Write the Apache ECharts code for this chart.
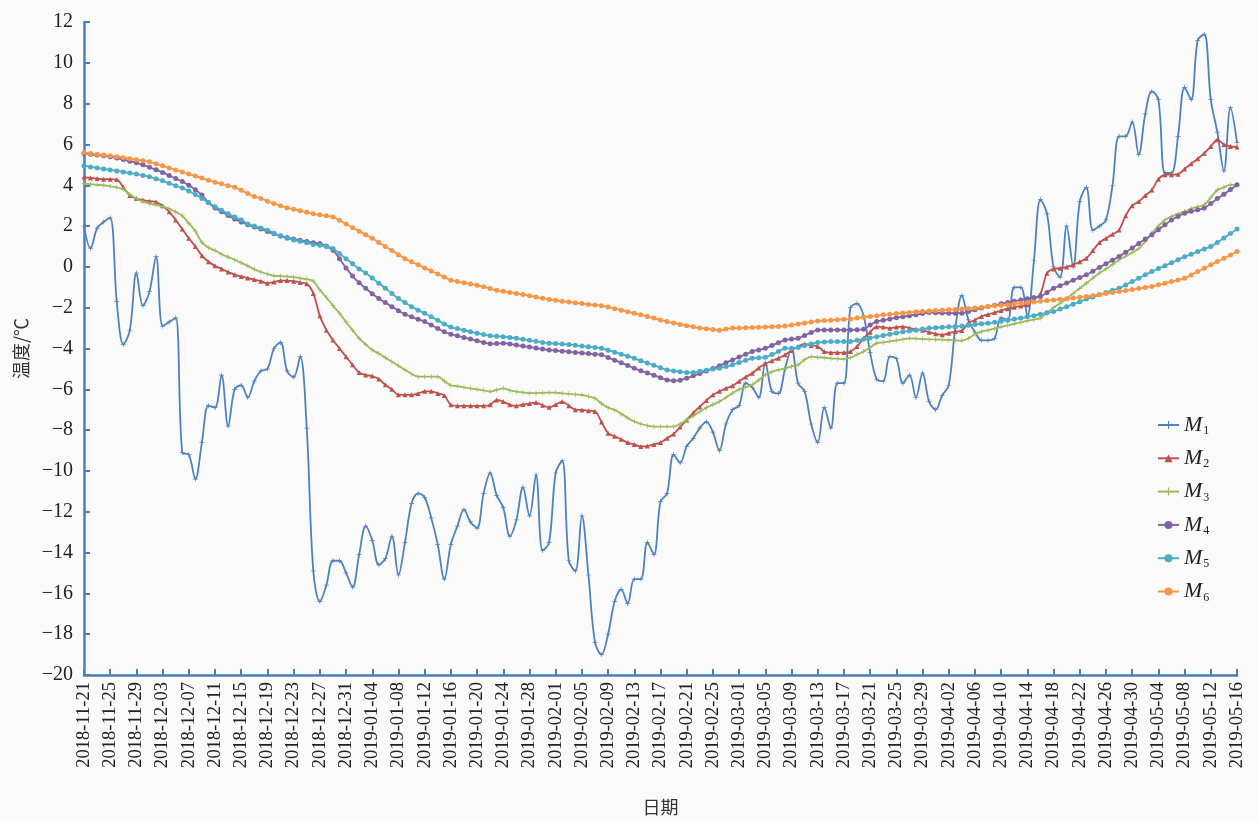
<!DOCTYPE html>
<html>
<head>
<meta charset="utf-8">
<script src="https://cdn.jsdelivr.net/npm/echarts@6/dist/echarts.min.js"></script>
<style>
html,body{margin:0;padding:0;background:#fafafa;}
#c{width:1258px;height:821px;}
</style>
</head>
<body>
<div id="c"></div>
<script>
// ---- data ----
const START_DATE = '2018-11-21';
const SERIES_NAMES = ['M1','M2','M3','M4','M5','M6'];
const Y_TICKS = {min: -20, max: 12, step: 2};

const M1 = [2.0,0.9,1.9,2.2,2.4,-1.7,-3.8,-3.1,-0.3,-1.9,
-1.2,0.5,-2.9,-2.7,-2.5,-9.1,-9.2,-10.4,-8.6,-6.8,
-6.9,-5.3,-7.8,-6.0,-5.8,-6.4,-5.6,-5.1,-5.0,-4.0,
-3.7,-5.1,-5.4,-4.4,-7.9,-14.9,-16.4,-15.6,-14.4,-14.4,
-15.0,-15.7,-14.1,-12.7,-13.4,-14.6,-14.3,-13.2,-15.1,-13.5,
-11.6,-11.1,-11.3,-12.3,-13.6,-15.3,-13.6,-12.7,-11.9,-12.5,
-12.8,-11.1,-10.1,-11.2,-11.8,-13.2,-12.4,-10.8,-12.2,-10.2,
-13.9,-13.5,-10.1,-9.5,-14.4,-14.9,-12.2,-15.1,-18.4,-19.0,
-18.0,-16.4,-15.8,-16.5,-15.3,-15.3,-13.5,-14.1,-11.5,-11.1,
-9.2,-9.6,-8.8,-8.4,-7.9,-7.6,-8.1,-9.0,-7.7,-7.0,
-6.8,-5.7,-5.9,-6.4,-4.7,-6.1,-6.2,-5.0,-4.0,-5.7,
-6.1,-7.7,-8.6,-6.9,-7.9,-5.7,-5.7,-2.0,-1.8,-2.4,
-4.2,-5.5,-5.6,-4.4,-4.5,-5.7,-5.3,-6.4,-5.2,-6.6,
-7.0,-6.3,-5.8,-3.0,-1.4,-2.6,-3.2,-3.6,-3.6,-3.5,
-2.5,-2.6,-1.0,-1.0,-2.4,0.3,3.3,2.6,0.0,-0.5,
2.0,0.0,3.2,3.9,1.8,2.0,2.3,4.0,6.4,6.4,
7.1,5.5,7.5,8.6,8.2,4.6,4.6,6.4,8.8,8.2,
11.1,11.4,8.2,6.6,4.7,7.8,6.1];

const M2 = [4.40,4.36,4.33,4.30,4.30,4.28,
3.90,3.50,3.35,3.28,
3.22,3.18,3.00,2.70,2.30,
1.85,1.40,1.00,0.55,0.25,0.05,
-0.10,-0.25,-0.38,-0.47,
-0.55,-0.62,-0.70,-0.80,
-0.74,-0.67,-0.67,-0.70,-0.77,
-0.83,-1.30,-2.40,-3.10,-3.58,
-4.00,-4.40,-4.80,-5.18,
-5.30,-5.35,-5.50,-5.78,
-6.00,-6.27,-6.27,-6.27,
-6.20,-6.10,-6.10,-6.20,-6.30,
-6.76,-6.81,-6.81,-6.81,-6.81,-6.81,-6.76,
-6.52,-6.60,-6.76,-6.81,
-6.75,-6.70,-6.65,-6.78,-6.88,
-6.75,-6.60,-6.80,-7.00,
-7.01,-7.05,-7.09,-7.60,-8.15,
-8.30,-8.45,-8.61,-8.70,-8.80,
-8.78,-8.70,-8.61,-8.40,-8.19,
-7.85,-7.50,-7.15,-6.85,
-6.55,-6.27,-6.10,-5.95,-5.83,
-5.60,-5.40,-5.21,-4.95,-4.75,
-4.60,-4.48,-4.31,-4.10,-3.90,-3.78,
-3.85,-3.90,-4.15,-4.20,-4.20,-4.20,
-4.15,-3.90,-3.50,-3.20,-2.93,
-2.95,-3.01,-2.95,-2.93,-3.00,-3.06,
-3.10,-3.20,-3.28,-3.33,-3.25,-3.17,-3.12,
-2.75,-2.60,-2.43,-2.33,-2.24,
-2.14,-2.05,-1.98,-1.92,-1.86,
-1.60,-1.32,-0.31,-0.10,-0.07,
0.00,0.10,0.25,0.42,0.80,
1.19,1.40,1.60,1.81,2.50,
3.00,3.20,3.50,3.77,4.30,
4.51,4.52,4.54,4.80,5.05,
5.30,5.57,5.90,6.23,
6.00,5.90,5.87];

const M3 = [4.08,4.05,4.02,4.00,3.95,3.90,
3.80,3.55,3.35,3.20,3.10,
3.04,2.95,2.85,2.70,2.50,
2.14,1.75,1.20,0.95,0.80,
0.62,0.48,0.35,0.20,0.05,
-0.12,-0.25,-0.35,-0.44,-0.45,
-0.47,-0.50,-0.56,-0.60,
-0.70,-1.13,-1.50,-1.90,-2.27,
-2.70,-3.10,-3.50,-3.80,-4.07,
-4.25,-4.45,-4.65,-4.85,-5.05,
-5.25,-5.38,-5.38,-5.38,-5.38,
-5.60,-5.80,-5.85,-5.90,-5.95,
-6.00,-6.05,-6.11,-6.03,-5.95,
-6.05,-6.11,-6.15,-6.19,-6.19,
-6.17,-6.16,-6.16,-6.20,-6.22,
-6.25,-6.27,-6.35,-6.44,-6.70,
-6.90,-7.01,-7.20,-7.40,-7.58,
-7.70,-7.78,-7.83,-7.83,-7.83,
-7.83,-7.70,-7.50,-7.30,-7.09,
-6.90,-6.75,-6.60,-6.40,-6.19,
-6.00,-5.90,-5.78,-5.55,-5.29,
-5.15,-5.05,-4.97,-4.88,-4.80,
-4.55,-4.40,-4.43,-4.45,-4.48,-4.50,-4.52,
-4.45,-4.30,-4.15,-3.95,-3.74,
-3.70,-3.65,-3.60,-3.55,-3.50,
-3.52,-3.53,-3.55,-3.56,-3.57,-3.58,-3.60,-3.61,
-3.50,-3.30,-3.17,
-3.10,-3.02,-2.94,-2.87,-2.79,
-2.72,-2.65,-2.58,-2.51,
-2.25,-2.00,-1.78,
-1.55,-1.30,-1.05,-0.80,
-0.55,-0.30,-0.10,0.12,0.34,
0.52,0.70,0.90,1.25,1.65,
2.00,2.30,2.47,2.60,2.71,
2.85,2.95,3.04,3.40,
3.77,3.90,4.02,4.02];

const M4 = [5.55,5.52,5.48,5.44,5.40,
5.33,5.26,5.18,5.10,5.00,
4.88,4.76,4.63,4.48,4.33,
4.18,4.00,3.78,3.52,3.15,2.88,
2.70,2.52,2.35,2.20,
2.06,1.95,1.85,1.73,
1.62,1.52,1.44,1.36,
1.30,1.24,1.18,1.14,
1.02,0.82,0.40,-0.05,-0.45,
-0.78,-1.05,-1.32,-1.55,
-1.75,-1.95,-2.15,
-2.32,-2.45,-2.57,-2.68,
-2.85,-3.02,-3.18,-3.30,
-3.38,-3.46,-3.54,-3.62,-3.70,-3.77,
-3.76,-3.74,-3.78,-3.83,-3.88,
-3.93,-3.98,-4.03,-4.07,
-4.10,-4.13,-4.16,-4.19,-4.22,-4.25,-4.28,-4.31,
-4.44,-4.57,-4.70,-4.83,-4.97,
-5.09,-5.20,-5.31,-5.43,-5.54,
-5.58,-5.55,-5.46,
-5.34,-5.22,-5.10,-4.98,-4.85,
-4.70,-4.56,-4.42,-4.28,-4.15,
-4.07,-3.99,-3.85,-3.72,-3.58,
-3.54,-3.50,-3.36,-3.22,-3.09,
-3.09,-3.09,-3.09,-3.09,-3.09,-3.08,-3.06,
-2.85,-2.68,-2.62,-2.56,-2.49,
-2.44,-2.39,-2.34,-2.29,-2.24,
-2.25,-2.26,-2.27,-2.27,-2.27,
-2.19,-2.10,-2.02,-1.94,
-1.88,-1.81,-1.75,-1.68,-1.62,
-1.56,-1.50,-1.45,-1.25,-1.05,
-0.92,-0.79,-0.65,-0.52,-0.39,
-0.21,-0.03,0.15,0.33,0.51,
0.72,0.93,1.15,1.36,1.57,
1.82,2.06,2.30,2.47,2.63,
2.72,2.80,2.88,3.10,
3.35,3.56,3.79,4.02];

const M5 = [4.95,4.90,4.85,4.80,4.75,4.70,4.65,4.60,
4.55,4.48,4.42,4.32,4.22,
4.10,3.98,3.86,3.72,3.55,
3.35,3.15,2.95,
2.78,2.60,2.45,2.30,
2.10,2.00,1.90,1.80,
1.65,1.50,1.40,1.32,
1.25,1.18,1.10,1.06,
1.00,0.90,
0.65,0.40,0.15,-0.10,-0.30,
-0.55,-0.80,-1.05,-1.30,-1.55,
-1.75,-1.95,-2.12,-2.27,
-2.45,-2.62,-2.80,-2.95,
-3.02,-3.10,-3.18,-3.25,-3.32,-3.38,
-3.40,-3.42,-3.46,-3.50,-3.55,
-3.60,-3.65,-3.70,-3.74,
-3.76,-3.78,-3.80,-3.84,-3.88,-3.91,-3.95,-3.99,
-4.08,-4.18,-4.28,-4.38,-4.48,
-4.60,-4.71,-4.82,-4.94,-5.05,
-5.10,-5.14,-5.18,-5.18,
-5.12,-5.06,-5.00,-4.97,
-4.88,-4.80,-4.68,-4.58,-4.48,
-4.45,-4.43,-4.30,-4.15,-3.99,
-3.99,-3.95,-3.85,-3.78,-3.71,
-3.68,-3.66,-3.66,-3.66,-3.66,-3.60,-3.55,
-3.48,-3.42,-3.36,-3.30,-3.24,
-3.18,-3.14,-3.10,-3.05,-3.00,
-2.98,-2.96,-2.94,-2.92,-2.90,
-2.86,-2.82,-2.79,-2.76,
-2.71,-2.66,-2.61,-2.56,-2.51,
-2.45,-2.39,-2.32,-2.25,-2.19,
-2.07,-1.95,-1.83,-1.71,-1.58,
-1.48,-1.37,-1.26,-1.15,-1.05,
-0.89,-0.72,-0.56,-0.39,-0.23,
-0.08,0.06,0.20,0.35,0.50,
0.62,0.75,0.88,1.00,
1.20,1.42,1.63,1.85];

const M6 = [5.60,5.56,5.52,5.48,5.44,5.40,
5.35,5.30,5.25,5.20,5.15,
5.05,4.95,4.85,
4.75,4.65,4.55,4.45,4.35,4.25,4.15,
4.07,3.98,3.90,
3.75,3.60,3.45,
3.35,3.22,3.10,3.00,2.90,2.83,
2.75,2.68,2.60,
2.55,2.50,2.45,
2.28,2.10,
1.92,1.75,1.58,1.40,
1.20,1.00,0.80,0.60,0.40,
0.25,0.10,-0.05,
-0.20,-0.35,-0.50,-0.65,
-0.72,-0.78,-0.84,-0.90,
-0.98,-1.06,-1.15,
-1.20,-1.25,-1.30,-1.35,
-1.42,-1.48,-1.54,-1.60,
-1.64,-1.68,-1.72,-1.76,-1.80,-1.84,-1.87,-1.90,
-1.97,-2.05,-2.12,-2.20,-2.27,
-2.35,-2.43,-2.51,-2.60,-2.68,
-2.75,-2.82,-2.88,-2.94,-3.00,
-3.03,-3.07,-3.10,
-3.05,-3.00,-3.00,-2.98,-2.97,
-2.96,-2.95,-2.93,-2.92,-2.90,
-2.85,-2.80,-2.75,-2.70,-2.65,
-2.63,-2.61,-2.59,-2.57,-2.55,
-2.51,-2.47,-2.43,-2.39,-2.35,
-2.32,-2.29,-2.26,-2.23,-2.20,
-2.18,-2.16,-2.14,-2.12,-2.10,-2.09,-2.07,
-2.04,-2.01,-1.98,-1.94,
-1.91,-1.88,-1.85,-1.81,-1.78,
-1.75,-1.72,-1.69,-1.65,-1.62,
-1.59,-1.56,-1.52,-1.49,-1.45,
-1.40,-1.35,-1.31,-1.26,-1.21,
-1.16,-1.11,-1.06,-1.01,-0.96,
-0.88,-0.80,-0.72,-0.64,-0.56,
-0.40,-0.23,-0.07,0.10,
0.26,0.42,0.58,0.75];

// ---- categories (daily dates) ----
function pad(n){return (n<10?'0':'')+n;}
const categories = [];
(function(){
  const p = START_DATE.split('-').map(Number);
  const d = new Date(Date.UTC(p[0], p[1]-1, p[2]));
  for (let i = 0; i < M1.length; i++) {
    categories.push(d.getUTCFullYear()+'-'+pad(d.getUTCMonth()+1)+'-'+pad(d.getUTCDate()));
    d.setUTCDate(d.getUTCDate()+1);
  }
})();

const AX = '#4a7ebb';
const SERIF = '"Liberation Serif", "DejaVu Serif", serif';
const COLORS = ['#4f81bd','#c0504d','#9bbb59','#8064a2','#4bacc6','#f79646'];
const PLUS = 'path://M4.3,0h1.4v10h-1.4z M0,4.3h10v1.4h-10z';
const SYMBOLS = [PLUS,'triangle',PLUS,'circle','circle','circle'];
const SIZES = [5,5,5,5,5,5];
const DATA = [M1,M2,M3,M4,M5,M6];

const chart = echarts.init(document.getElementById('c'));
chart.setOption({
  backgroundColor: '#fafafa',
  animation: false,
  grid: {left: 84, right: 21, top: 22, bottom: 146, containLabel: false, outerBoundsMode: 'none'},
  legend: {
    orient: 'vertical',
    left: 1152, top: 409,
    itemWidth: 21, itemHeight: 10, itemGap: 10.3,
    data: SERIES_NAMES,
    formatter: function(n){ return '{i|M}{s|' + n.slice(1) + '}'; },
    textStyle: {
      rich: {
        i: {fontFamily: SERIF, fontStyle: 'italic', fontSize: 22, color: '#222', lineHeight: 24},
        s: {fontFamily: SERIF, fontSize: 12, color: '#222', padding: [12,0,0,1]}
      }
    }
  },
  xAxis: {
    type: 'category',
    data: categories,
    boundaryGap: false,
    name: '日期',
    nameLocation: 'middle',
    nameGap: 123,
    nameTextStyle: {fontFamily: '"Noto Sans CJK SC", sans-serif', fontSize: 18, color: '#333'},
    axisLine: {show: true, onZero: false, lineStyle: {color: AX, width: 2.5}},
    axisTick: {show: true, inside: true, interval: 3, length: 6, lineStyle: {color: AX, width: 2}},
    axisLabel: {interval: 3, rotate: 90, margin: 7, fontFamily: SERIF, fontSize: 18.5, color: '#222'},
    splitLine: {show: false}
  },
  yAxis: {
    type: 'value',
    min: Y_TICKS.min, max: Y_TICKS.max, interval: Y_TICKS.step,
    name: '温度/℃',
    nameLocation: 'middle',
    nameRotate: 90,
    nameGap: 54,
    nameTextStyle: {fontFamily: '"Noto Sans CJK SC", sans-serif', fontSize: 18, color: '#333'},
    axisLine: {show: true, lineStyle: {color: AX, width: 2.5}},
    axisTick: {show: true, inside: true, length: 6, lineStyle: {color: AX, width: 2}},
    axisLabel: {
      margin: 11, fontFamily: SERIF, fontSize: 20, color: '#222',
      formatter: function(v){ return v < 0 ? '\u2212' + Math.abs(v) : String(v); }
    },
    splitLine: {show: false}
  },
  series: SERIES_NAMES.map(function(n, k){
    return {
      name: n,
      type: 'line',
      data: DATA[k],
      smooth: 0.35,
      symbol: SYMBOLS[k],
      symbolSize: SIZES[k],
      showSymbol: true,
      showAllSymbol: true,
      color: COLORS[k],
      lineStyle: {width: 1.8, color: COLORS[k]},
      itemStyle: {color: COLORS[k]},
      z: 2 + k
    };
  })
});
</script>
</body>
</html>
